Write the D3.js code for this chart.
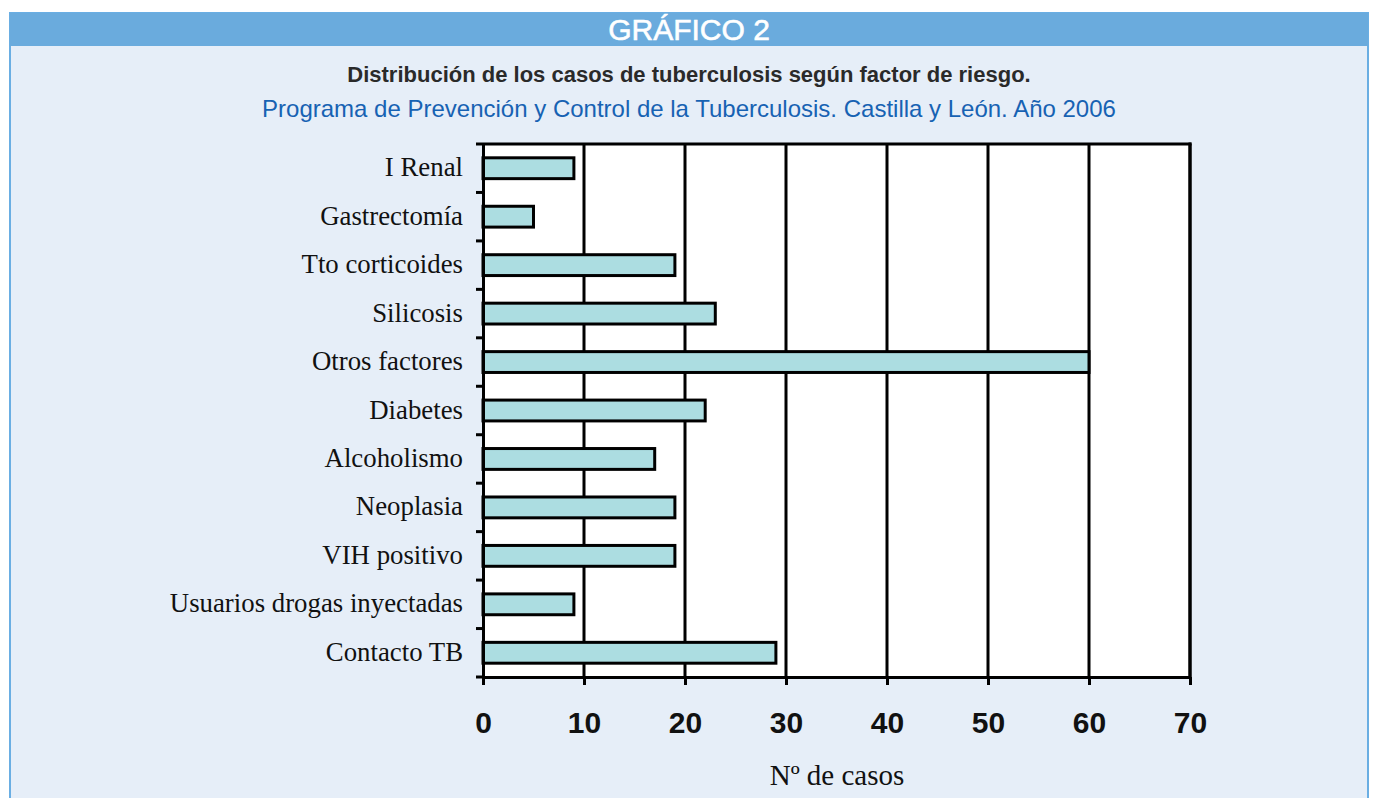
<!DOCTYPE html>
<html><head><meta charset="utf-8">
<script src="https://cdn.jsdelivr.net/npm/d3@7"></script>
<style>html,body{margin:0;padding:0;background:#fff;}svg{display:block;}</style>
</head><body>
<svg id="c" width="1373" height="798"></svg>
<script>
const categories = ["I Renal","Gastrectomía","Tto corticoides","Silicosis","Otros factores","Diabetes","Alcoholismo","Neoplasia","VIH positivo","Usuarios drogas inyectadas","Contacto TB"];
const values = [9,5,19,23,60,22,17,19,19,9,29];
const xTicks = [0,10,20,30,40,50,60,70];
const title = "GRÁFICO 2";
const subtitle1 = "Distribución de los casos de tuberculosis según factor de riesgo.";
const subtitle2 = "Programa de Prevención y Control de la Tuberculosis. Castilla y León. Año 2006";
const xLabel = "Nº de casos";

const svg = d3.select("#c");
// panel
svg.append("rect").attr("x",10).attr("y",13).attr("width",1358).attr("height",800)
  .attr("fill","#e6eef8").attr("stroke","#6aaee3").attr("stroke-width",2);
svg.append("rect").attr("x",10).attr("y",13).attr("width",1358).attr("height",33).attr("fill","#6aabdd");
svg.append("text").attr("x",689).attr("y",40).attr("text-anchor","middle")
  .attr("font-family","Liberation Sans, Arial, sans-serif").attr("font-size",30).attr("fill","#fff")
  .attr("stroke","#fff").attr("stroke-width",0.6).text(title);
svg.append("text").attr("x",689).attr("y",82).attr("text-anchor","middle")
  .attr("font-family","Liberation Sans, Arial, sans-serif").attr("font-weight","bold").attr("font-size",22).attr("fill","#2a2a2a").text(subtitle1);
svg.append("text").attr("x",689).attr("y",117).attr("text-anchor","middle")
  .attr("font-family","Liberation Sans, Arial, sans-serif").attr("font-size",24).attr("fill","#1762b3").text(subtitle2);

const L=483, R=1190, T=144, B=677;
const x = d3.scaleLinear().domain([0,70]).range([L,R]);
const y = d3.scaleBand().domain(categories).range([T,B]).paddingInner(0.57).paddingOuter(0.285);
const yb = d3.scaleBand().domain(categories).range([T,B]);

const g = svg.append("g");
g.append("rect").attr("x",L).attr("y",T).attr("width",R-L).attr("height",B-T).attr("fill","#fff");
// gridlines
g.selectAll("line.grid").data(xTicks.slice(1)).join("line").attr("class","grid")
  .attr("x1",d=>x(d)).attr("x2",d=>x(d)).attr("y1",T).attr("y2",B)
  .attr("stroke","#000").attr("stroke-width",3);
g.append("line").attr("x1",L).attr("x2",R+1.5).attr("y1",T).attr("y2",T).attr("stroke","#000").attr("stroke-width",3);
// bars
g.selectAll("rect.bar").data(values).join("rect").attr("class","bar")
  .attr("x",x(0)).attr("y",(d,i)=>y(categories[i]))
  .attr("width",d=>x(d)-x(0)).attr("height",y.bandwidth())
  .attr("fill","#acdde1").attr("stroke","#000").attr("stroke-width",3);

// y axis
const yAxis = d3.axisLeft(yb).tickSize(0).tickFormat("");
const ya = svg.append("g").attr("transform",`translate(${L},0)`).call(yAxis);
ya.select(".domain").attr("stroke","#000").attr("stroke-width",3);
// boundary ticks
const bounds = categories.map(c=>yb(c)).concat([B]);
svg.selectAll("line.yt").data(bounds).join("line").attr("class","yt")
  .attr("x1",L-7).attr("x2",L).attr("y1",d=>d).attr("y2",d=>d).attr("stroke","#000").attr("stroke-width",3);
svg.selectAll("text.yl").data(categories).join("text").attr("class","yl")
  .attr("x",L-20).attr("y",d=>yb(d)+yb.bandwidth()/2+8).attr("text-anchor","end")
  .attr("font-family","Liberation Serif, Times New Roman, serif").attr("font-size",26.8).attr("fill","#111").text(d=>d);

// x axis
const xAxis = d3.axisBottom(x).tickValues(xTicks).tickSize(8).tickPadding(27).tickSizeOuter(0);
const xa = svg.append("g").attr("transform",`translate(0,${B})`).call(xAxis);
xa.select(".domain").attr("stroke","#000").attr("stroke-width",3);
xa.selectAll(".tick line").attr("stroke","#000").attr("stroke-width",3);
xa.selectAll(".tick text").attr("font-family","Liberation Sans, Arial, sans-serif").attr("font-weight","bold")
  .attr("font-size",30).attr("fill","#111");
// right border
svg.append("line").attr("x1",R).attr("x2",R).attr("y1",T-1.5).attr("y2",B).attr("stroke","#000").attr("stroke-width",3);

svg.append("text").attr("x",837).attr("y",785).attr("text-anchor","middle")
  .attr("font-family","Liberation Serif, Times New Roman, serif").attr("font-size",29).attr("fill","#111").text(xLabel);
</script>
</body></html>
